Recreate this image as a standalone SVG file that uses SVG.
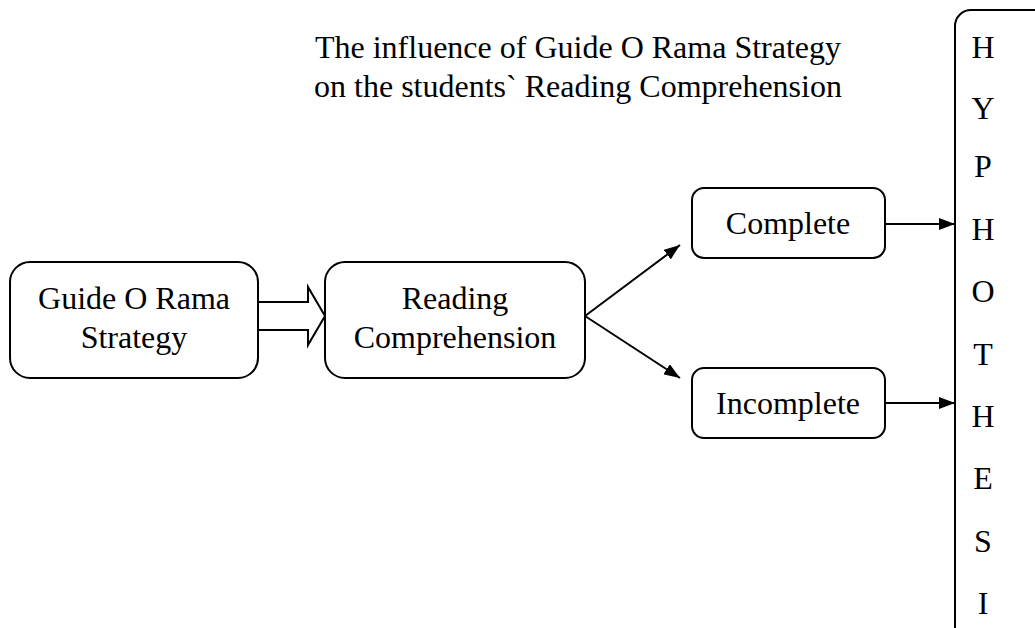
<svg xmlns="http://www.w3.org/2000/svg" width="1035" height="628" viewBox="0 0 1035 628">
<style>
.box{fill:#fff;stroke:#000;stroke-width:2}
.t{font-family:'Liberation Serif','DejaVu Serif',serif;font-size:32px;fill:#000;text-anchor:middle}
.ln{stroke:#000;stroke-width:2;fill:none}
</style>
<defs>
<marker id="ah" viewBox="0 0 16 12" refX="16" refY="6" markerWidth="16" markerHeight="12" markerUnits="userSpaceOnUse" orient="auto">
<path d="M0,0 L16,6 L0,12 Z" fill="#000"/>
</marker>
</defs>
<rect width="1035" height="628" fill="#fff"/>
<g id="title">
<text class="t" x="578" y="58">The influence of Guide O Rama Strategy</text>
<text class="t" x="578" y="97">on the students` Reading Comprehension</text>
</g>
<g id="guide">
<rect class="box" x="10" y="262" width="248" height="116" rx="20"/>
<text class="t" x="134" y="309">Guide O Rama</text>
<text class="t" x="134" y="348">Strategy</text>
</g>
<g id="reading">
<rect class="box" x="325" y="262" width="260" height="116" rx="20"/>
<text class="t" x="455" y="309">Reading</text>
<text class="t" x="455" y="348">Comprehension</text>
</g>
<g id="complete">
<rect class="box" x="692" y="188" width="193" height="70" rx="12"/>
<text class="t" x="788" y="234">Complete</text>
</g>
<g id="incomplete">
<rect class="box" x="692" y="368" width="193" height="70" rx="12"/>
<text class="t" x="788" y="414">Incomplete</text>
</g>
<g id="hypothesis">
<rect class="box" x="955" y="10" width="100" height="640" rx="16"/>
<text class="t" x="983" y="58">H</text>
<text class="t" x="983" y="119">Y</text>
<text class="t" x="983" y="177">P</text>
<text class="t" x="983" y="240">H</text>
<text class="t" x="983" y="302">O</text>
<text class="t" x="983" y="365">T</text>
<text class="t" x="983" y="427">H</text>
<text class="t" x="983" y="489">E</text>
<text class="t" x="983" y="552">S</text>
<text class="t" x="983" y="614">I</text>
</g>
<g id="connectors">
<polygon class="box" points="258,302 308,302 308,287 325,316 308,345 308,330 258,330"/>
<line class="ln" x1="585" y1="316" x2="680" y2="245" marker-end="url(#ah)"/>
<line class="ln" x1="585" y1="316" x2="680" y2="378" marker-end="url(#ah)"/>
<line class="ln" x1="885" y1="224" x2="955" y2="224" marker-end="url(#ah)"/>
<line class="ln" x1="885" y1="403" x2="955" y2="403" marker-end="url(#ah)"/>
</g>
</svg>
